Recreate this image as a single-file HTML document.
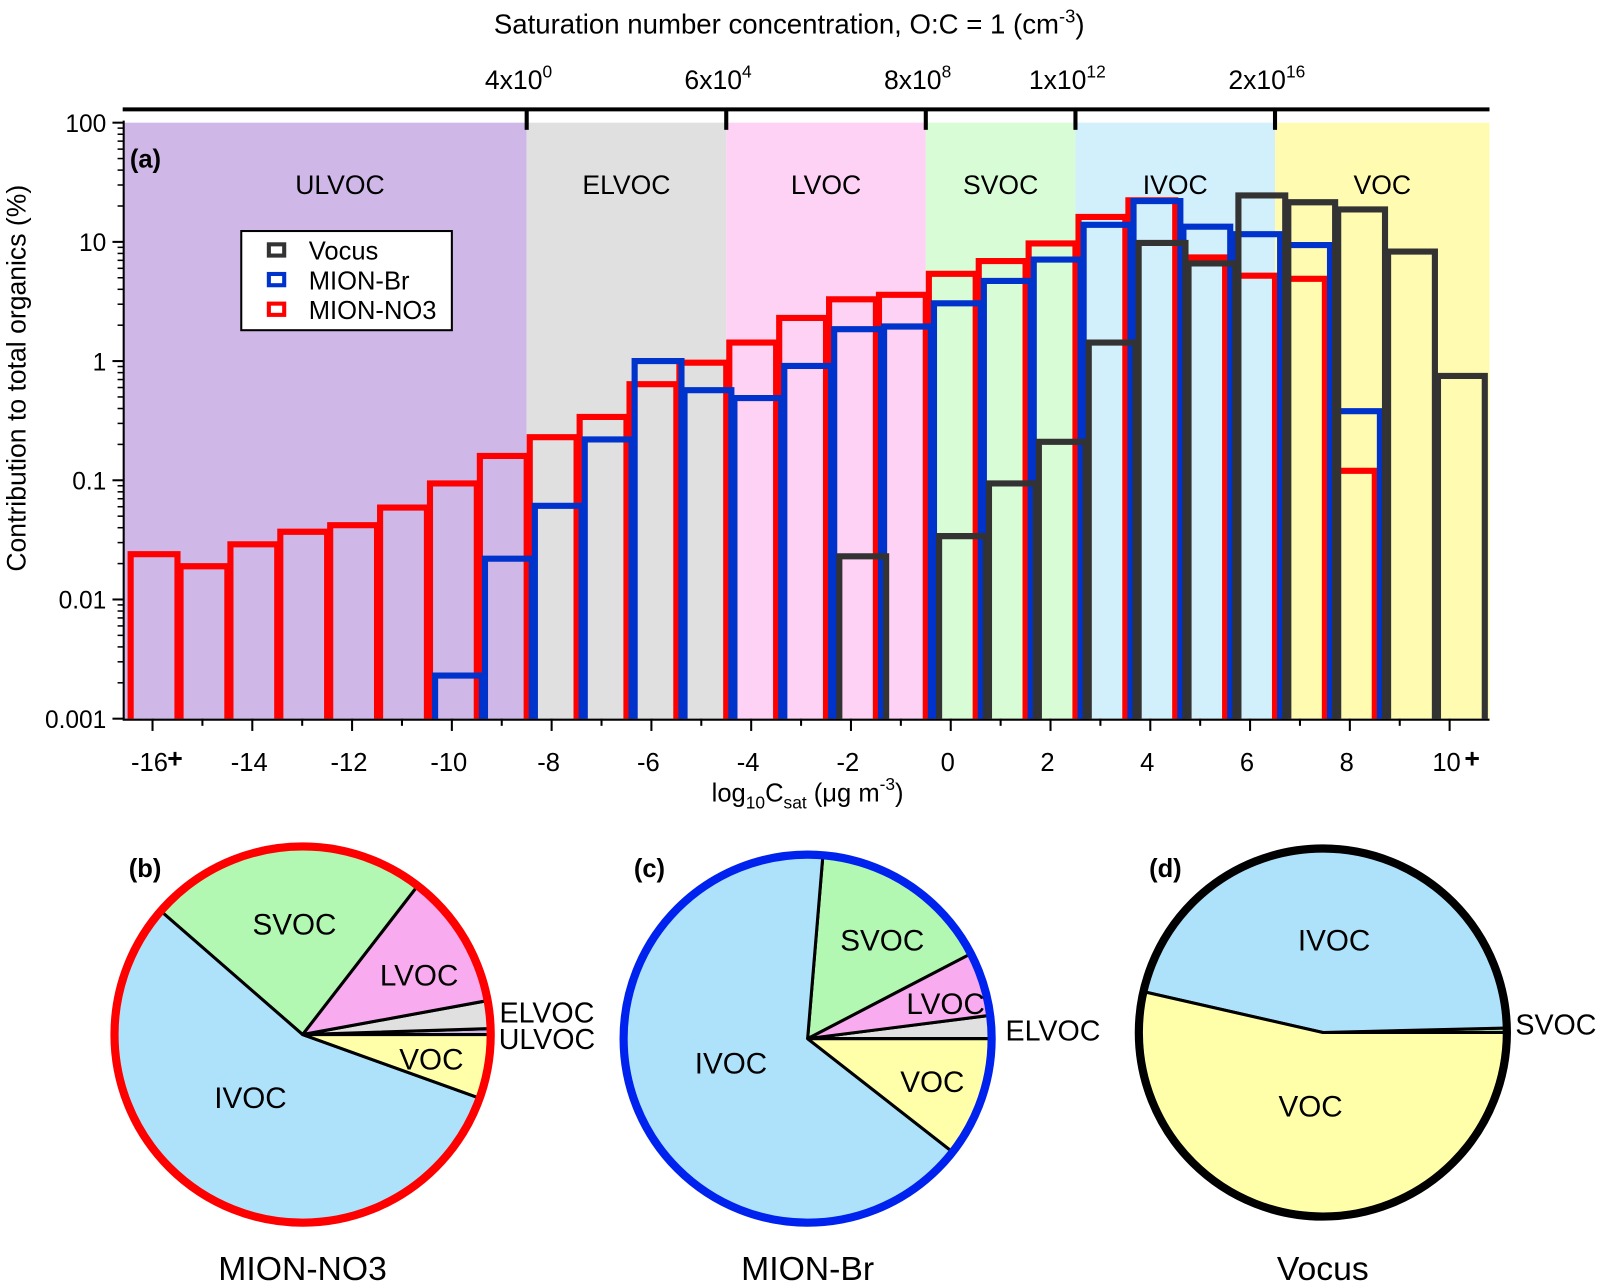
<!DOCTYPE html>
<html><head><meta charset="utf-8"><style>
html,body{margin:0;padding:0;background:#fff}
svg{display:block}
text{font-family:"Liberation Sans",Arial,sans-serif;fill:#000}
</style></head><body>
<svg id="chart" width="1603" height="1287" viewBox="0 0 1603 1287" xmlns="http://www.w3.org/2000/svg">
<g transform="scale(1.0223)">
<g id="regions"></g>
<g id="bars"></g>
<g id="axes"></g>
<text x="772" y="33" font-size="27" text-anchor="middle">Saturation number concentration, O:C = 1 (cm<tspan dy="-11" font-size="18">-3</tspan><tspan dy="11">)</tspan></text>
<text x="127" y="164" font-size="25" font-weight="bold">(a)</text>
<text transform="translate(25,370) rotate(-90)" font-size="26" text-anchor="middle">Contribution to total organics (%)</text>
<text x="790" y="784" font-size="25" text-anchor="middle">log<tspan font-size="17" dy="7">10</tspan><tspan dy="-7">C</tspan><tspan font-size="17" dy="7">sat</tspan><tspan dy="-7"> (μg m</tspan><tspan dy="-11" font-size="17">-3</tspan><tspan dy="11">)</tspan></text>
<g>
<rect x="236" y="226" width="206" height="97" fill="#fff" stroke="#000" stroke-width="2"/>
<rect x="263" y="239" width="15" height="11" fill="#fff" stroke="#333" stroke-width="4"/>
<text x="302" y="254" font-size="25">Vocus</text>
<rect x="263" y="268" width="15" height="11" fill="#fff" stroke="#0033cc" stroke-width="4"/>
<text x="302" y="283" font-size="25">MION-Br</text>
<rect x="263" y="297" width="15" height="11" fill="#fff" stroke="#ff0000" stroke-width="4"/>
<text x="302" y="312" font-size="25">MION-NO3</text>
</g>
<g id="pies"></g>
</g>
</svg>
<script>
const bins = [-16,-15,-14,-13,-12,-11,-10,-9,-8,-7,-6,-5,-4,-3,-2,-1,0,1,2,3,4,5,6,7,8,9,10];
const no3Values = [0.024,0.019,0.029,0.037,0.042,0.059,0.094,0.16,0.23,0.34,0.64,0.97,1.43,2.3,3.3,3.6,5.4,6.9,9.7,16.2,22.3,7.4,5.2,4.9,0.12,0,0];
const brValues  = [0,0,0,0,0,0,0.0023,0.022,0.061,0.22,1.0,0.57,0.49,0.91,1.85,1.95,3.05,4.7,7.1,13.9,22,13.4,11.6,9.4,0.38,0,0];
const vocusValues = [0,0,0,0,0,0,0,0,0,0,0,0,0,0,0.023,0,0.034,0.094,0.21,1.43,9.8,6.6,24.5,21.5,18.7,8.3,0.75];
const regionNames = ["ULVOC","ELVOC","LVOC","SVOC","IVOC","VOC"];
const regionBounds = [-16.6,-8.5,-4.5,-0.5,2.5,6.5,10.8];
const yTickValues = [100,10,1,0.1,0.01,0.001];
const yTickLabels = ["100","10","1","0.1","0.01","0.001"];
const xTickValues = [-16,-14,-12,-10,-8,-6,-4,-2,0,2,4,6,8,10];
const topTickLabels = [["4x10","0"],["6x10","4"],["8x10","8"],["1x10","12"],["2x10","16"]];

const NS="http://www.w3.org/2000/svg";
const X0=930, XU=48.8, YTOP=120, YDEC=116.6, YBOT=703;
const xs = v => X0 + v*XU;
const ys = v => YTOP + (2 - Math.log10(v))*YDEC;
function mk(tag, attrs, parent){const e=document.createElementNS(NS,tag);for(const k in attrs)e.setAttribute(k,attrs[k]);parent.appendChild(e);return e;}

const regFill=["#cfb8e8","#e0e0e0","#fdd2f4","#d8fcd6","#d2effc","#fffcb2"];
const gR=document.getElementById('regions');
regionNames.forEach((n,i)=>{
  const r=mk('rect',{x:xs(regionBounds[i]),y:YTOP,width:xs(regionBounds[i+1])-xs(regionBounds[i]),height:YBOT-YTOP,fill:regFill[i]},gR);
  
  
  const t=mk('text',{x:(xs(regionBounds[i])+xs(regionBounds[i+1]))/2+[15,0,0,0,0,0][i],y:190,'font-size':26,'text-anchor':'middle'},gR);
  t.textContent=n;
  
  
});

const gB=document.getElementById('bars');
const series=[["mion-no3",no3Values,"#ff0000",3],["mion-br",brValues,"#0033cc",8],["vocus",vocusValues,"#333333",13]];
series.forEach(s=>{
  bins.forEach((b,i)=>{
    const v=s[1][i]; if(!(v>0))return;
    const x1=xs(b-0.5)+s[3], x2=xs(b+0.5)+s[3]-3, y=ys(v);
    const p=mk('path',{d:`M${x1},${YBOT}V${y}H${x2}V${YBOT}`,fill:'none',stroke:s[2],'stroke-width':6},gB);
    
    
  });
});

const gA=document.getElementById('axes');
mk('line',{x1:121,y1:YTOP-2,x2:121,y2:YBOT+1,stroke:'#000','stroke-width':2},gA);
mk('line',{x1:120,y1:YBOT+1,x2:1457,y2:YBOT+1,stroke:'#000','stroke-width':2},gA);
yTickValues.forEach((v,i)=>{
  mk('line',{x1:110,y1:ys(v),x2:121,y2:ys(v),stroke:'#000','stroke-width':2},gA);
  const t=mk('text',{x:104,y:ys(v)+9,'font-size':24,'text-anchor':'end'},gA);
  t.textContent=yTickLabels[i];
  
  
  if(i<yTickValues.length-1){for(let m=2;m<10;m++){const mv=v/10*m;mk('line',{x1:115,y1:ys(mv),x2:121,y2:ys(mv),stroke:'#000','stroke-width':1.5},gA);}}
});
for(let b=-16;b<=10;b++){mk('line',{x1:xs(b),y1:YBOT,x2:xs(b),y2:YBOT+(b%2===0?12:7),stroke:'#000','stroke-width':2},gA);}
xTickValues.forEach(v=>{
  const t=mk('text',{x:xs(v)-3,y:754,'font-size':25,'text-anchor':'middle'},gA);
  t.textContent=String(v);
  
  
});
[-16,10].forEach(a=>{const t=mk('text',{x:xs(a)+22,y:751,'font-size':26,'font-weight':'bold','text-anchor':'middle'},gA);t.textContent='+';});
mk('line',{x1:120,y1:107,x2:1457,y2:107,stroke:'#000','stroke-width':4},gA);
regionBounds.slice(1,6).forEach((b,i)=>{
  mk('line',{x1:xs(b),y1:107,x2:xs(b),y2:127,stroke:'#000','stroke-width':4},gA);
  const t=mk('text',{x:xs(b)-8,y:87,'font-size':26,'text-anchor':'middle'},gA);
  t.textContent=topTickLabels[i][0];
  const ts=mk('tspan',{dy:-11,'font-size':17},t); ts.textContent=topTickLabels[i][1];
  
  
});

const pieFill={ULVOC:"#cfb8e8",ELVOC:"#e0e0e0",LVOC:"#f9abf0",SVOC:"#b2f8b2",IVOC:"#aee2fb",VOC:"#ffffaa"};
function regionOf(b){for(let i=0;i<6;i++){if(b<regionBounds[i+1])return i;}return 5;}
const gP=document.getElementById('pies');
const pies=[
 {name:'mion-no3',vals:no3Values,cx:296,cy:1012,r:184,col:'#ff0000',title:'MION-NO3',tag:'(b)',
  labels:{SVOC:[288,913],LVOC:[410,963],ELVOC:[535,999],ULVOC:[535,1025],VOC:[422,1045],IVOC:[245,1083]}},
 {name:'mion-br',vals:brValues,cx:790,cy:1016,r:180,col:'#0022ee',title:'MION-Br',tag:'(c)',
  labels:{SVOC:[863,929],LVOC:[925,991],ELVOC:[1030,1017],VOC:[912,1067],IVOC:[715,1049]}},
 {name:'vocus',vals:vocusValues,cx:1294,cy:1010,r:180,col:'#000000',title:'Vocus',tag:'(d)',
  labels:{IVOC:[1305,929],SVOC:[1522,1011],VOC:[1282,1091]}}
];
pies.forEach(p=>{
  const sums=[0,0,0,0,0,0];
  bins.forEach((b,i)=>{sums[regionOf(b)]+=p.vals[i];});
  const tot=sums.reduce((a,b)=>a+b,0);
  let a0=0;
  const g=mk('g',{},gP);
  
  
  mk('circle',{cx:p.cx,cy:p.cy,r:p.r,fill:pieFill.IVOC},g);
  regionNames.forEach((n,i)=>{
    if(sums[i]<=0)return;
    const a1=a0+sums[i]/tot*2*Math.PI;
    const x1=p.cx+p.r*Math.cos(a0),y1=p.cy-p.r*Math.sin(a0),x2=p.cx+p.r*Math.cos(a1),y2=p.cy-p.r*Math.sin(a1);
    const large=(a1-a0)>Math.PI?1:0;
    const s=mk('path',{d:`M${p.cx},${p.cy}L${x1},${y1}A${p.r},${p.r} 0 ${large} 0 ${x2},${y2}Z`,fill:pieFill[n],stroke:'#000','stroke-width':3,'stroke-linejoin':'round'},g);
    
    
    a0=a1;
  });
  mk('circle',{cx:p.cx,cy:p.cy,r:p.r,fill:'none',stroke:p.col,'stroke-width':8},g);
  for(const n in p.labels){
    const small=(n==='ELVOC'||n==='ULVOC'||(p.name==='vocus'&&n==='SVOC'));
    const t=mk('text',{x:p.labels[n][0],y:p.labels[n][1]+1,'font-size':small?28:29,'text-anchor':'middle'},g);
    t.textContent=n;
    
    
  }
  const tl=mk('text',{x:p.cx,y:1252,'font-size':33,'text-anchor':'middle'},g);
  tl.textContent=p.title;
  
  
  const tg=mk('text',{x:p.cx-170,y:858,'font-size':25,'font-weight':'bold'},g);
  tg.textContent=p.tag;
  
  
});
</script>
</body></html>
